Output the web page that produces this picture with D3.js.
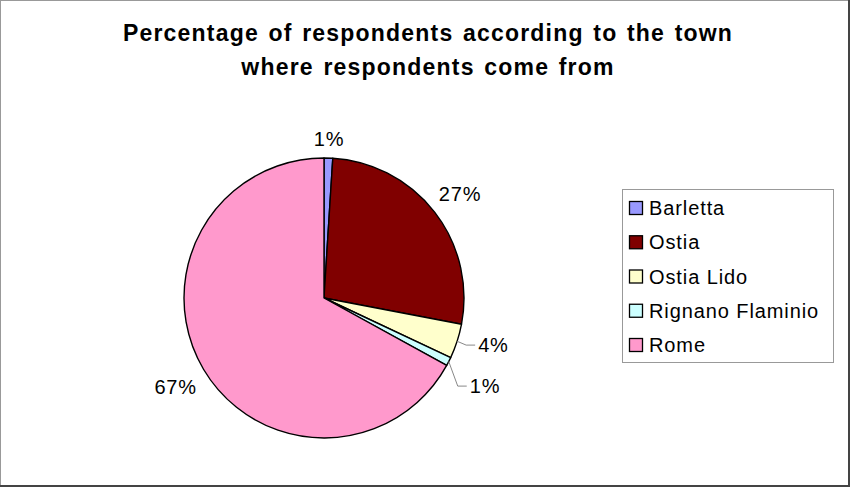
<!DOCTYPE html>
<html>
<head>
<meta charset="utf-8">
<script src="https://cdn.jsdelivr.net/npm/d3@7"></script>
<style>
  html, body { margin: 0; padding: 0; background: #fff; }
  svg { display: block; font-family: "Liberation Sans", Arial, sans-serif; }
</style>
</head>
<body>
<svg id="chart" width="850" height="487"></svg>
<script>
// ---- data ----
const categories = ["Barletta", "Ostia", "Ostia Lido", "Rignano Flaminio", "Rome"];
const percentages = [1, 27, 4, 1, 67];
const sliceColors = ["#9999FF", "#800000", "#FFFFCC", "#CCFFFF", "#FF99CC"];
const titleLines = ["Percentage of respondents according to the town", "where respondents come from"];

// ---- layout ----
const W = 850, H = 487;
const cx = 324, cy = 298, R = 140;
const svg = d3.select("#chart");

// chart frame
svg.append("rect").attr("x", 0.5).attr("y", 0.5).attr("width", W - 2).attr("height", H - 2)
  .attr("fill", "#fff").attr("stroke", "#999").attr("stroke-width", 1);
svg.append("line").attr("x1", W - 1).attr("x2", W - 1).attr("y1", 0).attr("y2", H)
  .attr("stroke", "#444").attr("stroke-width", 2);
svg.append("line").attr("x1", 0).attr("x2", W).attr("y1", H - 1).attr("y2", H - 1)
  .attr("stroke", "#444").attr("stroke-width", 2);

// title
const title = svg.append("text").attr("text-anchor", "middle")
  .attr("font-weight", "bold").attr("font-size", 23).attr("letter-spacing", 1.2)
  .attr("word-spacing", 2).attr("fill", "#000");
titleLines.forEach((t, i) => {
  title.append("tspan").attr("x", 428).attr("y", 41 + i * 34).text(t);
});

// pie
const data = categories.map((c, i) => ({ name: c, value: percentages[i], color: sliceColors[i] }));
const pie = d3.pie().value(d => d.value).sort(null);
const arcs = pie(data);
const arc = d3.arc().innerRadius(0).outerRadius(R);

const g = svg.append("g").attr("transform", `translate(${cx},${cy})`);
g.selectAll("path").data(arcs).join("path")
  .attr("d", arc)
  .attr("fill", d => d.data.color)
  .attr("stroke", "#000")
  .attr("stroke-width", 1.4)
  .attr("stroke-linejoin", "round");

// labels
const labelFont = 20;
const labelG = g.append("g").attr("font-size", labelFont).attr("letter-spacing", 0.8).attr("fill", "#000");
const labels = arcs.map(a => {
  const ang = (a.startAngle + a.endAngle) / 2;
  const sx = Math.sin(ang), sy = -Math.cos(ang);
  const txt = a.data.value + "%";
  const t = labelG.append("text").text(txt).attr("text-anchor", "middle").attr("dy", "0.35em");
  const w = t.node().getComputedTextLength();
  const h = 24;
  const gap = 8;
  const ext = Math.abs(sx) * w / 2 + Math.abs(sy) * h / 2;
  const dist = R + gap + ext;
  return { a, ang, sx, sy, w, t, x: sx * dist, y: sy * dist + 1.5, moved: false };
});

// simple vertical collision resolution
const minSep = 41;
for (let i = 1; i < labels.length; i++) {
  const p = labels[i - 1], q = labels[i];
  if (Math.abs(p.x - q.x) < (p.w + q.w) / 2 + 10 && Math.abs(p.y - q.y) < minSep) {
    const need = (minSep - Math.abs(q.y - p.y)) / 2;
    const dir = q.y >= p.y ? 1 : -1;
    p.y -= dir * need; q.y += dir * need;
    p.moved = q.moved = true;
  }
}

labels.forEach(L => {
  if (L.moved) {
    const ex = L.sx * R, ey = L.sy * R;
    const tx = ex + 21;
    const ly = L.y + 2.5;
    L.t.attr("text-anchor", "start").attr("x", tx).attr("y", ly);
    g.append("polyline")
      .attr("points", [[ex, ey], [tx - 12, ly], [tx - 3, ly]].map(p => p.join(",")).join(" "))
      .attr("fill", "none").attr("stroke", "#888").attr("stroke-width", 1);
  } else {
    L.t.attr("x", L.x).attr("y", L.y);
  }
});

// legend
const lg = svg.append("g");
lg.append("rect").attr("x", 622.5).attr("y", 189.5).attr("width", 211).attr("height", 173)
  .attr("fill", "#fff").attr("stroke", "#999").attr("stroke-width", 1);
const rowY = d3.scalePoint().domain(categories).range([208, 345]);
const rows = lg.selectAll("g.row").data(data).join("g").attr("class", "row")
  .attr("transform", d => `translate(0,${rowY(d.name)})`);
rows.append("rect").attr("x", 629.5).attr("y", -6.5).attr("width", 13).attr("height", 13)
  .attr("fill", d => d.color).attr("stroke", "#000").attr("stroke-width", 1.3);
rows.append("text").attr("x", 649).attr("y", 7).attr("font-size", 20).attr("letter-spacing", 0.9)
  .attr("fill", "#000").text(d => d.name);
</script>
</body>
</html>
